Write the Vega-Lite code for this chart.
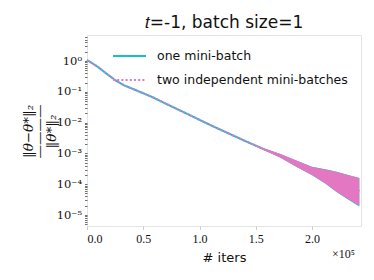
{
  "$schema": "https://vega.github.io/schema/vega-lite/v6.json",
  "width": 274,
  "height": 191,
  "autosize": {"type": "none"},
  "padding": {"left": 87, "top": 35, "right": 13, "bottom": 54},
  "background": "white",
  "config": {"view": {"stroke": "#e4e4e4", "strokeWidth": 1}, "font": "DejaVu Sans"},
  "title": {"text": "𝑡=-1, batch size=1", "font": "DejaVu Sans", "fontSize": 17, "fontWeight": "normal", "color": "#111111", "offset": 3, "dy": 4, "anchor": "middle"},
  "data": {"values": [
    {"s": "one mini-batch", "x": 0, "y": 1.072, "lo": 1.072, "hi": 1.072},
    {"s": "one mini-batch", "x": 5000, "y": 0.832, "lo": 0.832, "hi": 0.832},
    {"s": "one mini-batch", "x": 10000, "y": 0.631, "lo": 0.631, "hi": 0.631},
    {"s": "one mini-batch", "x": 17000, "y": 0.398, "lo": 0.398, "hi": 0.398},
    {"s": "one mini-batch", "x": 25000, "y": 0.240, "lo": 0.240, "hi": 0.240},
    {"s": "one mini-batch", "x": 33000, "y": 0.162, "lo": 0.162, "hi": 0.162},
    {"s": "one mini-batch", "x": 43000, "y": 0.115, "lo": 0.115, "hi": 0.115},
    {"s": "one mini-batch", "x": 58000, "y": 0.0676, "lo": 0.0676, "hi": 0.0676},
    {"s": "one mini-batch", "x": 72000, "y": 0.0380, "lo": 0.0380, "hi": 0.0380},
    {"s": "one mini-batch", "x": 87000, "y": 0.0209, "lo": 0.0209, "hi": 0.0209},
    {"s": "one mini-batch", "x": 100000, "y": 0.0123, "lo": 0.0123, "hi": 0.0123},
    {"s": "one mini-batch", "x": 112000, "y": 0.00759, "lo": 0.00759, "hi": 0.00759},
    {"s": "one mini-batch", "x": 127000, "y": 0.00427, "lo": 0.00427, "hi": 0.00427},
    {"s": "one mini-batch", "x": 142000, "y": 0.00240, "lo": 0.00240, "hi": 0.00240},
    {"s": "one mini-batch", "x": 157000, "y": 0.00138, "lo": 0.00129, "hi": 0.00148},
    {"s": "one mini-batch", "x": 172000, "y": 0.000832, "lo": 0.000724, "hi": 0.000955},
    {"s": "one mini-batch", "x": 186000, "y": 0.000468, "lo": 0.000368, "hi": 0.000592},
    {"s": "one mini-batch", "x": 200000, "y": 0.000282, "lo": 0.000197, "hi": 0.000366},
    {"s": "one mini-batch", "x": 212000, "y": 0.000182, "lo": 0.000103, "hi": 0.000304},
    {"s": "one mini-batch", "x": 222000, "y": 0.000126, "lo": 0.0000550, "hi": 0.000253},
    {"s": "one mini-batch", "x": 232000, "y": 0.0000851, "lo": 0.0000322, "hi": 0.000201},
    {"s": "one mini-batch", "x": 242000, "y": 0.0000603, "lo": 0.0000188, "hi": 0.000159},
    {"s": "two independent mini-batches", "x": 0, "y": 1.072, "lo": 1.072, "hi": 1.072},
    {"s": "two independent mini-batches", "x": 5000, "y": 0.832, "lo": 0.832, "hi": 0.832},
    {"s": "two independent mini-batches", "x": 10000, "y": 0.631, "lo": 0.631, "hi": 0.631},
    {"s": "two independent mini-batches", "x": 17000, "y": 0.398, "lo": 0.398, "hi": 0.398},
    {"s": "two independent mini-batches", "x": 25000, "y": 0.240, "lo": 0.240, "hi": 0.240},
    {"s": "two independent mini-batches", "x": 33000, "y": 0.162, "lo": 0.162, "hi": 0.162},
    {"s": "two independent mini-batches", "x": 43000, "y": 0.115, "lo": 0.115, "hi": 0.115},
    {"s": "two independent mini-batches", "x": 58000, "y": 0.0676, "lo": 0.0676, "hi": 0.0676},
    {"s": "two independent mini-batches", "x": 72000, "y": 0.0380, "lo": 0.0380, "hi": 0.0380},
    {"s": "two independent mini-batches", "x": 87000, "y": 0.0209, "lo": 0.0209, "hi": 0.0209},
    {"s": "two independent mini-batches", "x": 100000, "y": 0.0123, "lo": 0.0123, "hi": 0.0123},
    {"s": "two independent mini-batches", "x": 112000, "y": 0.00759, "lo": 0.00759, "hi": 0.00759},
    {"s": "two independent mini-batches", "x": 127000, "y": 0.00427, "lo": 0.00427, "hi": 0.00427},
    {"s": "two independent mini-batches", "x": 142000, "y": 0.00240, "lo": 0.00240, "hi": 0.00240},
    {"s": "two independent mini-batches", "x": 157000, "y": 0.00138, "lo": 0.00129, "hi": 0.00148},
    {"s": "two independent mini-batches", "x": 172000, "y": 0.000832, "lo": 0.000724, "hi": 0.000955},
    {"s": "two independent mini-batches", "x": 186000, "y": 0.000468, "lo": 0.000372, "hi": 0.000589},
    {"s": "two independent mini-batches", "x": 200000, "y": 0.000282, "lo": 0.000200, "hi": 0.000363},
    {"s": "two independent mini-batches", "x": 212000, "y": 0.000182, "lo": 0.000105, "hi": 0.000302},
    {"s": "two independent mini-batches", "x": 222000, "y": 0.000126, "lo": 0.0000562, "hi": 0.000251},
    {"s": "two independent mini-batches", "x": 232000, "y": 0.0000851, "lo": 0.0000331, "hi": 0.000200},
    {"s": "two independent mini-batches", "x": 242000, "y": 0.0000603, "lo": 0.0000200, "hi": 0.000158}
  ]},
  "resolve": {"axis": {"x": "independent", "y": "independent"}},
  "layer": [
    {
      "transform": [{"filter": "datum.s == 'one mini-batch'"}],
      "mark": {"type": "area", "color": "#17becf", "opacity": 1},
      "encoding": {
        "x": {"field": "x", "type": "quantitative", "scale": {"domain": [0, 243500], "nice": false, "zero": false},
          "axis": {"orient": "bottom", "title": "# iters", "titleFont": "DejaVu Sans", "titleFontSize": 13, "titleFontWeight": "normal", "titleColor": "#111111", "titlePadding": 7,
            "values": [0, 50000, 100000, 150000, 200000], "labelExpr": "format(datum.value/100000, '.1f')",
            "labelFont": "Liberation Serif", "labelFontSize": 12, "labelColor": "#111111", "labelPadding": 4,
            "tickColor": "#cccccc", "tickSize": 3.5, "domain": false, "grid": false}},
        "y": {"field": "lo", "type": "quantitative", "scale": {"type": "log", "domain": [0.0000044, 7], "nice": false},
          "axis": {"orient": "left", "title": ["‖θ−θ*‖₂", "————", "‖θ*‖₂"], "titleFont": "DejaVu Serif", "titleFontStyle": "italic", "titleFontWeight": "normal", "titleFontSize": 13.5, "titleLineHeight": 11.5, "titleColor": "#111111",
            "titleX": -59, "titleY": 96, "titleAngle": 270, "titleAlign": "center", "titleBaseline": "middle",
            "values": [0.000005, 0.000006, 0.000007, 0.000008, 0.000009, 0.00001, 0.00002, 0.00003, 0.00004, 0.00005, 0.00006, 0.00007, 0.00008, 0.00009, 0.0001, 0.0002, 0.0003, 0.0004, 0.0005, 0.0006, 0.0007, 0.0008, 0.0009, 0.001, 0.002, 0.003, 0.004, 0.005, 0.006, 0.007, 0.008, 0.009, 0.01, 0.02, 0.03, 0.04, 0.05, 0.06, 0.07, 0.08, 0.09, 0.1, 0.2, 0.3, 0.4, 0.5, 0.6, 0.7, 0.8, 0.9, 1, 2, 3, 4, 5, 6],
            "labelExpr": "datum.value == 1 ? '10⁰' : datum.value == 0.1 ? '10⁻¹' : datum.value == 0.01 ? '10⁻²' : datum.value == 0.001 ? '10⁻³' : datum.value == 0.0001 ? '10⁻⁴' : datum.value == 0.00001 ? '10⁻⁵' : ''",
            "labelFont": "DejaVu Serif", "labelFontSize": 11.5, "labelColor": "#111111", "labelPadding": 3, "labelOverlap": false,
            "domain": false, "grid": false, "tickColor": "#333333", "tickWidth": 0.7, "tickSize": 2.5}},
        "y2": {"field": "hi"}
      }
    },
    {
      "transform": [{"filter": "datum.s == 'one mini-batch'"}],
      "mark": {"type": "line", "strokeWidth": 2},
      "encoding": {
        "x": {"field": "x", "type": "quantitative", "axis": null},
        "y": {"field": "y", "type": "quantitative", "axis": null},
        "color": {"field": "s", "type": "nominal", "scale": {"domain": ["one mini-batch", "two independent mini-batches"], "range": ["#17becf", "#e377c2"]},
          "legend": {"title": null, "orient": "none", "legendX": 25, "legendY": 3.5, "symbolType": "stroke", "symbolSize": 1089, "symbolStrokeWidth": 2, "labelFont": "DejaVu Sans", "labelFontSize": 12.5, "labelColor": "#111111", "labelOffset": 10, "labelLimit": 0, "rowPadding": -11, "padding": 0}},
        "strokeDash": {"field": "s", "type": "nominal", "scale": {"domain": ["one mini-batch", "two independent mini-batches"], "range": [[1, 0], [2, 2.2]]},
          "legend": {"title": null, "orient": "none", "legendX": 25, "legendY": 3.5, "symbolType": "stroke", "symbolSize": 1089, "symbolStrokeWidth": 2, "labelFont": "DejaVu Sans", "labelFontSize": 12.5, "labelColor": "#111111", "labelOffset": 10, "labelLimit": 0, "rowPadding": -11, "padding": 0}}
      }
    },
    {
      "transform": [{"filter": "datum.s == 'two independent mini-batches'"}],
      "mark": {"type": "area", "color": "#e377c2", "opacity": 1},
      "encoding": {
        "x": {"field": "x", "type": "quantitative",
          "axis": {"orient": "bottom", "domain": false, "ticks": false, "labels": false, "grid": false, "title": "×10⁵", "titleFont": "Liberation Serif", "titleFontSize": 12, "titleFontWeight": "normal", "titleColor": "#111111", "titleX": 256, "titleY": 27, "titleAlign": "center", "titleBaseline": "middle"}},
        "y": {"field": "lo", "type": "quantitative", "axis": null},
        "y2": {"field": "hi"}
      }
    },
    {
      "transform": [{"filter": "datum.s == 'two independent mini-batches'"}],
      "mark": {"type": "line", "strokeWidth": 2},
      "encoding": {
        "x": {"field": "x", "type": "quantitative", "axis": null},
        "y": {"field": "y", "type": "quantitative", "axis": null},
        "color": {"field": "s", "type": "nominal", "legend": null},
        "strokeDash": {"field": "s", "type": "nominal", "legend": null}
      }
    }
  ]
}
